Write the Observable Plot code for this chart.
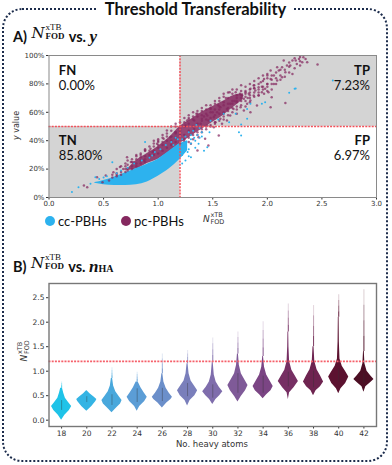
<!DOCTYPE html>
<html><head><meta charset="utf-8">
<script src="https://cdn.jsdelivr.net/npm/d3@7"></script>
<script src="https://cdn.jsdelivr.net/npm/@observablehq/plot@0.6"></script>
<style>
html,body{margin:0;padding:0;background:#fff}
#page{position:relative;width:392px;height:465px;overflow:hidden;font-family:Lato,sans-serif;color:#111}
#border{position:absolute;left:2px;top:8px;width:382px;height:450px;border:2px dotted #1c2c4c;border-radius:20px}
#title{position:absolute;left:98px;top:1px;width:195px;text-align:center;background:#fff;font-size:16.5px;font-weight:700;line-height:16px;white-space:nowrap}
.head{position:absolute;left:13px;font-size:14.5px;font-weight:700;line-height:18px;white-space:nowrap}
.m{display:inline-block;position:relative;width:35px;height:16px;vertical-align:baseline}
.m i{position:absolute;left:1px;top:-2px;font-family:"DejaVu Serif",serif;font-style:italic;font-weight:400;font-size:15px}
.m b,.m u{position:absolute;left:15px;font-family:"Liberation Serif",serif;text-decoration:none;font-style:normal;font-size:9px;line-height:8px}
.m b{top:-3px;font-weight:400}.m u{top:6px;font-weight:700}
.v{font-family:"Liberation Serif",serif;font-style:italic;font-size:17px}
.lab{position:absolute;font-family:"DejaVu Sans",sans-serif;font-size:8.5px;color:#333;white-space:nowrap}
.s{display:inline-block;position:relative;width:19px;height:10px}
.s i{position:absolute;left:0;top:0;font-size:9px;font-family:"DejaVu Sans";font-style:italic}
.s b,.s u{position:absolute;left:7.5px;font-weight:400;text-decoration:none;font-size:6.5px;line-height:7px}
.s b{top:-2px}.s u{top:5px}
.leg{position:absolute;top:212px;font-size:13px;line-height:18px;white-space:nowrap}
.dot{position:absolute;top:216px;width:10px;height:10px;border-radius:50%}
svg{position:absolute;left:0;background:transparent;overflow:visible}
</style></head><body>
<div id="page">
<div id="border"></div>
<div id="title">Threshold Transferability</div>
<div class="head" style="top:26px">A) <span class="m"><i>N</i><b>xTB</b><u>FOD</u></span> vs. <span class="v">y</span></div>
<div class="head" style="top:256px">B) <span class="m"><i>N</i><b>xTB</b><u>FOD</u></span> vs. <span class="v">n</span><span style="font-family:'Liberation Serif';font-size:10px">HA</span></div>
<div id="a"></div><div id="b"></div>
<div class="lab" style="left:1px;top:121px;width:30px;text-align:center;transform:rotate(-90deg);font-size:8px"><i>y</i> value</div>
<div class="lab" style="left:203px;top:214px"><span class="s"><i>N</i><b>xTB</b><u>FOD</u></span></div>
<div class="lab" style="left:15px;top:346px;transform:rotate(-90deg)"><span class="s"><i>N</i><b>xTB</b><u>FOD</u></span></div>
<div class="lab" style="left:176px;top:439px">No. heavy atoms</div>
<div class="dot" style="left:45px;background:#2db2ee"></div><div class="leg" style="left:58px">cc-PBHs</div>
<div class="dot" style="left:121px;background:#85285f"></div><div class="leg" style="left:134px">pc-PBHs</div>
</div>
<script>
// Panel A: scatter clouds (x = N_FOD, y = %)
const ccCoreX  = [0.42,0.5,0.6,0.7,0.8,0.9,1.0,1.1,1.2,1.27];
const ccCoreLo = [10,9,8.5,8.5,9,11,15,20,27,33];
const ccCoreHi = [10.5,12,14.5,17.5,20.5,23.5,27,32.5,38,40];
const pcCoreX  = [0.72,0.8,0.9,1.0,1.1,1.2,1.3,1.4,1.5,1.6,1.7,1.78];
const pcCoreLo = [19,20,24,27,32,38,43,48,53,58,64,69];
const pcCoreHi = [20,26,31,36,42,50,55,60,64,68,72,73];
const pcX = [2.33,2.29,2.365,2.32,2.27,2.23,2.15,2.18,2.09,2.135,2.46,2.35,2.26,2.21,2.30,2.03,2.105,2.165,2.23,2.0,2.06,2.135,1.97,2.03,2.09,1.94,2.0,2.06,1.875,1.92,1.98,1.845,1.89,1.95,2.01,1.80,1.83,1.875,1.92,1.97,1.655,1.71,1.77,2.04,2.165,2.03,1.60,1.66,1.72,1.785,1.845,1.905,1.57,1.63,1.69,1.755,1.815,1.48,1.54,1.60,1.66,1.72,1.785,1.845,1.45,1.51,1.57,1.63,1.40,1.46,1.525,1.585,1.33,1.39,1.45,1.51,1.265,1.25,1.33,1.555,1.37,1.43,1.36,1.46,1.30,1.235,0.32,0.35,0.44,0.52,0.49,0.59,0.65,0.715,0.715,0.775,0.84,0.88,0.93,0.99,1.08,1.11,1.16,1.2,0.87,1.05,0.62,0.68,0.75,0.8,0.55,0.95,1.0,1.28,1.35,1.42,1.5,1.55,1.62,1.7,1.75,1.82,1.88,1.95];
const pcY = [98.8,97.6,95.3,95.3,94.1,96.5,96.5,93,91.8,91.8,93.6,97.6,96.5,93,93,89.4,89.4,88.2,87,85.9,85.9,84.7,83.5,83.5,82.4,81.2,80,80,78.9,77.7,76.5,76.5,75.3,74.2,74.2,74.2,73,71.8,71.8,73,74.2,74.2,71.8,70.6,66.6,63.6,67.1,66,67.1,69.5,68.3,64.8,63.6,62.4,62.4,63.6,66,62.4,60.1,58.9,57.7,58.9,61.2,60.1,57.7,56.5,55.4,54.2,55.4,54.2,53,51.9,54.2,51.9,50.7,49.5,54.2,50.7,48.3,43.6,42.5,41.3,33.1,36.6,37.8,40.1,8.4,7.3,14.3,15.5,10.8,17.8,21.4,20.2,28.4,24.9,28.4,33.1,34.3,37.8,47.2,42.5,46,48.4,26,41.3,16,20,25,30,12,32,40,56,59,57,60,65,70,68,73,70,77,78];
// further maroon points, one row per x: [x, y, y, ...]
const pcRows = [[.58,14,16],[.62,20,17,15],[.66,22,18,16],[.7,24,20,22,18],[.72,26,19,23],[.76,25,27,22,20],[.8,29,24,27,22],[.84,30,26,31,24],[.88,33,29,27,25,34],[.92,36,30,33,28],[.96,36,33,38,30,40],[1.0,39,35,41,31,37],[1.04,42,37,33,39,44],[1.08,45,40,35,43],[1.12,47,43,37,50,40],[1.16,50,45,39,52,42,46],[1.2,53,47,41,38,44,50],[1.24,56,50,44,41,53],[1.28,55,52,47,42,58,39],[1.32,60,55,50,44,57,41],[1.36,61,57,52,46,59,44],[1.4,63,58,54,48,61,46],[1.44,62,59,55,50,65,48],[1.48,65,60,56,51,63,50],[1.52,66,62,58,53,68,52],[1.56,68,64,59,54,70,62],[1.6,71,65,60,57,73,55],[1.64,70,66,61,58,74,63],[1.68,73,68,63,60,76,66],[1.72,72,68,64,70,76,62],[1.76,75,70,65,72,79,68],[1.8,78,73,68,71,64,75],[1.84,76,72,70,80,67,74],[1.88,79,74,71,82,77],[1.92,80,76,74,84,72],[1.96,82,78,86,76],[2.0,84,80,78,75,87],[2.04,80,86,83,76],[2.08,84,88,80],[2.12,90,86,83],[2.16,85,90],[2.2,92,95,88],[2.25,91,98],[2.3,96,99]];
const ccX = [0.21,0.27,0.38,0.425,0.58,0.88,0.945,2.6,2.26,2.25,2.2,1.98,1.95,1.815,1.815,1.76,1.74,1.76,1.71,1.65,1.845,1.45,1.42,1.3,1.27,1.37,1.35,1.48,1.55,1.6,1.47,1.4,1.25,1.28,1.3,1.32,1.34,1.36,1.38,1.4,1.22,1.25,1.28,1.3,1.33,1.25,1.28,1.22,1.24,0.46,0.5,0.53,0.62,0.66,0.72,0.78,0.85,0.92,0.97,1.02,1.07,1.12,1.16,1.22,1.26,1.3,1.34,1.38,1.18,1.14];
const ccY = [3.8,7.3,9.6,14.3,24.9,39,29.6,82.4,76.7,76.5,73.7,67,66,62.4,55.4,51.4,46,43.6,58.9,53,66,35.4,33,28.4,32,37.8,51,54,55,59,46,43,43,46,41,47,35,44,49,46,30,36,34,38,42,26,29,24,33,13,14,15,17,19,21,24,26,28,32,34,37,39,42,41,39,44,40,42,41,37];
const regionX1 = [0,1.2], regionX2 = [1.2,3], regionY1 = [0,50], regionY2 = [50,100];
const quadLabels = ["FN","0.00%","TP","7.23%","TN","85.80%","FP","6.97%"];
const quadX = [0.09,0.09,2.94,2.94,0.09,0.09,2.94,2.94];
const quadY = [89.5,78.5,89.5,78.5,40,29,40,29];

// Panel B: violin profiles, [value, half width in axis units]
const heavyAtoms = [18,20,22,24,26,28,30,32,34,36,38,40,42];
const violinColors = ["#1fc3e8","#34b4e4","#49a8dc","#5b9dd6","#6b8fca","#7a7fbb","#7f6dac","#7f5a98","#7b4584","#762f63","#6e2450","#5c1230","#4c0e24"];
const v18 = [[0,0],[.1,.26],[.2,.62],[.28,.8],[.36,.55],[.45,.3],[.55,.17],[.65,.07]];
const v20 = [[.18,0],[.28,.4],[.38,.72],[.42,.8],[.48,.55],[.54,.25],[.6,.02]];
const v22 = [[.15,0],[.25,.36],[.33,.68],[.4,.8],[.48,.58],[.58,.3],[.7,.13],[.85,.05]];
const v24 = [[.18,0],[.28,.2],[.38,.6],[.47,.8],[.56,.55],[.66,.3],[.78,.08]];
const v26 = [[.25,0],[.35,.35],[.42,.68],[.47,.8],[.55,.55],[.65,.3],[.78,.12],[.95,.04]];
const v28 = [[.29,0],[.4,.2],[.5,.58],[.6,.8],[.7,.55],[.8,.28],[.95,.12],[1.15,.04]];
const v30 = [[.32,0],[.42,.25],[.5,.55],[.58,.8],[.67,.52],[.78,.27],[.92,.12],[1.2,.03]];
const v32 = [[.37,0],[.48,.25],[.6,.6],[.71,.8],[.82,.55],[.95,.27],[1.12,.11],[1.35,.04]];
const v34 = [[.44,0],[.52,.28],[.6,.62],[.69,.8],[.8,.55],[.92,.28],[1.08,.11],[1.3,.03]];
const v36 = [[.42,0],[.56,.1],[.66,.45],[.79,.8],[.9,.55],[1.02,.28],[1.2,.1],[1.5,.05],[1.8,.03]];
const v38 = [[.5,0],[.6,.2],[.68,.55],[.78,.8],[.9,.56],[1.03,.28],[1.2,.1],[1.5,.04]];
const v40 = [[.54,0],[.64,.18],[.75,.55],[.88,.8],[.98,.58],[1.1,.28],[1.25,.1],[1.6,.05],[2.1,.03]];
const v42 = [[.57,0],[.68,.15],[.76,.5],[.83,.8],[.9,.55],[1.0,.25],[1.15,.08],[1.4,.03]];
const violins = [v18,v20,v22,v24,v26,v28,v30,v32,v34,v36,v38,v40,v42];
const tailTop = [.78,.6,1.07,.98,1.35,1.42,1.68,1.8,2.01,2.37,2.34,2.56,2.66];
const boxLo = [.2,.36,.3,.36,.38,.48,.45,.55,.55,.68,.66,.78,.75];
const boxHi = [.4,.48,.52,.64,.65,.75,.72,.95,.9,.98,1.0,1.05,.95];
const threshold = 1.2;

const regions = regionX1.map((d,i)=>({x1:d,x2:regionX2[i],y1:regionY1[i],y2:regionY2[i]}));
const ccCore = ccCoreX.map((x,i)=>({x,lo:ccCoreLo[i],hi:ccCoreHi[i]}));
const pcCore = pcCoreX.map((x,i)=>({x,lo:pcCoreLo[i],hi:pcCoreHi[i]}));
const pcPts = pcX.map((x,i)=>({x,y:pcY[i]})).concat(pcRows.flatMap(([x,...ys])=>ys.map(y=>({x,y}))));
const ccPts = ccX.map((x,i)=>({x,y:ccY[i]}));
const quads = quadLabels.map((t,i)=>({t,x:quadX[i],y:quadY[i],bold:i%2===0}));
const qt = (rows,anchor,weight)=>Plot.text(rows,{x:"x",y:"y",text:"t",textAnchor:anchor,fontFamily:"Lato",fontSize:13,fontWeight:weight,fill:"#111"});

const pa = Plot.plot({
  width:392,height:175,marginLeft:48.5,marginRight:16,marginTop:15,marginBottom:18,
  style:{fontFamily:"DejaVu Sans",fontSize:7,color:"#333",background:"transparent"},
  x:{domain:[0,3],ticks:[0,.5,1,1.5,2,2.5,3],tickFormat:d3.format(".1f"),tickSize:2.5,tickPadding:1.5,label:null},
  y:{domain:[0,100],ticks:[0,20,40,60,80,100],tickFormat:d=>d+"%",tickSize:2.5,tickPadding:2,label:null},
  marks:[
    Plot.rect(regions,{x1:"x1",x2:"x2",y1:"y1",y2:"y2",fill:"#d4d4d4"}),
    Plot.areaY(pcCore,{x:"x",y1:"lo",y2:"hi",fill:"#85285f",fillOpacity:.85,curve:"monotone-x"}),
    Plot.areaY(ccCore,{x:"x",y1:"lo",y2:"hi",fill:"#2db2ee",curve:"monotone-x"}),
    Plot.dot(pcPts,{x:"x",y:"y",r:1.25,fill:"#85285f",fillOpacity:.72}),
    Plot.dot(ccPts,{x:"x",y:"y",r:1,fill:"#2db2ee"}),
    Plot.ruleY([50],{stroke:"#f2505a",strokeWidth:1.5,strokeDasharray:"2,1.2"}),
    Plot.ruleX([threshold],{stroke:"#f2505a",strokeWidth:1.5,strokeDasharray:"2,1.2"}),
    Plot.frame({stroke:"#8a8a8a",strokeWidth:1}),
    qt(quads.filter(d=>d.x<1&&d.bold),"start",700),
    qt(quads.filter(d=>d.x<1&&!d.bold),"start",400),
    qt(quads.filter(d=>d.x>1&&d.bold),"end",700),
    qt(quads.filter(d=>d.x>1&&!d.bold),"end",400)
  ]
});
pa.style.top="40px";
document.getElementById("a").append(pa);

const violinMarks = violins.flatMap((prof,i)=>{
  const n = heavyAtoms[i], start = prof[prof.length-1][0], top = tailTop[i];
  const tail = [.85,.6,.4,.18].map((o,k)=>Plot.ruleX([n],{y1:start+(top-start)*k/4,y2:start+(top-start)*(k+1)/4,stroke:violinColors[i],strokeWidth:1.1,strokeOpacity:o}));
  return [
    Plot.areaX(prof.map(([v,w])=>({v,lo:n-w,hi:n+w})),{y:"v",x1:"lo",x2:"hi",fill:violinColors[i],curve:"linear"}),
    ...tail,
    Plot.ruleX([n],{y1:boxLo[i],y2:boxHi[i],stroke:"#333",strokeWidth:.7,strokeOpacity:.55})
  ];
});
const pb = Plot.plot({
  width:392,height:172,marginLeft:48.5,marginRight:16,marginTop:13,marginBottom:16,
  style:{fontFamily:"DejaVu Sans",fontSize:7.5,color:"#333",background:"transparent"},
  x:{domain:[17,43],ticks:heavyAtoms,tickFormat:d=>d,tickSize:2.5,tickPadding:1.5,label:null},
  y:{domain:[-0.129,2.79],ticks:[0,.5,1,1.5,2,2.5],tickFormat:d3.format(".1f"),tickSize:2.5,tickPadding:2,label:null},
  marks:[
    ...violinMarks,
    Plot.ruleY([threshold],{stroke:"#f5606a",strokeWidth:1.6,strokeDasharray:"2,1.2"}),
    Plot.frame({stroke:"#777",strokeWidth:1.4})
  ]
});
pb.style.top="270px";
document.getElementById("b").append(pb);
</script>
</body></html>
